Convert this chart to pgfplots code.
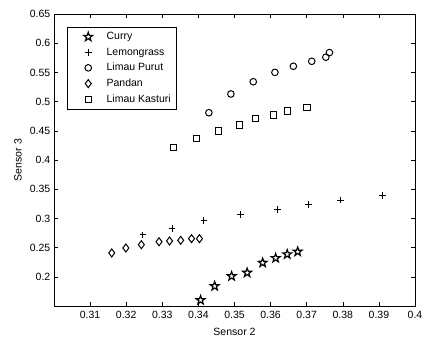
\documentclass[border=0pt]{standalone}
\usepackage{pgfplots}
\pgfplotsset{compat=1.18}
\usepackage{fontspec}
\setmainfont{Liberation Sans}
\pgfdeclareplotmark{pentagram}{%
  \pgfpathmoveto{\pgfpointpolar{90}{\pgfplotmarksize}}%
  \pgfpathlineto{\pgfpointpolar{126}{0.40\pgfplotmarksize}}%
  \pgfpathlineto{\pgfpointpolar{162}{\pgfplotmarksize}}%
  \pgfpathlineto{\pgfpointpolar{198}{0.40\pgfplotmarksize}}%
  \pgfpathlineto{\pgfpointpolar{234}{\pgfplotmarksize}}%
  \pgfpathlineto{\pgfpointpolar{270}{0.40\pgfplotmarksize}}%
  \pgfpathlineto{\pgfpointpolar{306}{\pgfplotmarksize}}%
  \pgfpathlineto{\pgfpointpolar{342}{0.40\pgfplotmarksize}}%
  \pgfpathlineto{\pgfpointpolar{18}{\pgfplotmarksize}}%
  \pgfpathlineto{\pgfpointpolar{54}{0.40\pgfplotmarksize}}%
  \pgfpathclose
  \pgfusepathqstroke
}
\begin{document}
\fontsize{10.5bp}{12bp}\selectfont
\begin{tikzpicture}
\useasboundingbox (0,0) rectangle (422bp,338bp);
\begin{axis}[
  at={(54bp,32bp)}, anchor=south west,
  scale only axis, width=361bp, height=292bp,
  xmin=0.30, xmax=0.40, ymin=0.15, ymax=0.65,
  xtick={0.31,0.32,0.33,0.34,0.35,0.36,0.37,0.38,0.39,0.40},
  xticklabels={0.31,0.32,0.33,0.34,0.35,0.36,0.37,0.38,0.39,0.4},
  ytick={0.2,0.25,0.3,0.35,0.4,0.45,0.5,0.55,0.6,0.65},
  yticklabels={0.2,0.25,0.3,0.35,0.4,0.45,0.5,0.55,0.6,0.65},
  tick align=inside, tick pos=both,
  major tick length=4bp,
  tick style={black, line width=0.5pt},
  axis line style={line width=0.6pt},
  xlabel={Sensor 2}, ylabel={Sensor 3},
  xlabel style={at={(axis description cs:0.5,0)}, anchor=center, yshift=-26bp},
  ylabel style={at={(axis description cs:-0.0997,0.5)}, anchor=center},
  xticklabel style={yshift=-1bp},
  ticklabel style={font=\fontsize{10.5bp}{12bp}\selectfont},
  label style={font=\fontsize{10.5bp}{12bp}\selectfont},
  legend style={at={(rel axis cs:0.036,0.955)}, anchor=north west,
    font=\fontsize{10.5bp}{12bp}\selectfont, draw=black, line width=0.5pt,
    row sep=2.6bp, column sep=12bp, inner xsep=3bp, inner ysep=3bp},
  legend cell align=left,
  legend image code/.code={\path[draw=none,fill=none] (0bp,0bp) -- (22bp,0bp); \draw[#1] plot coordinates {(18bp,0bp)};},
]
\addplot[only marks, mark=pentagram, mark size=4.6bp, black, line width=1.2pt, mark options={line join=miter}] coordinates {
(0.3406,0.160) (0.3445,0.184) (0.3492,0.201) (0.3535,0.207) (0.3578,0.224)
(0.3614,0.232) (0.3646,0.2385) (0.3675,0.243)};
\addlegendentry{Curry}
\addplot[only marks, mark=+, mark size=3.3bp, black, line width=1pt] coordinates {
(0.3246,0.2716) (0.3327,0.283) (0.3415,0.296) (0.3516,0.307) (0.3619,0.3156)
(0.3705,0.324) (0.3794,0.3315) (0.3910,0.339)};
\addlegendentry{Lemongrass}
\addplot[only marks, mark=o, mark size=3.3bp, black, line width=1pt] coordinates {
(0.3429,0.481) (0.3490,0.513) (0.3552,0.534) (0.3612,0.550) (0.3663,0.5605)
(0.3714,0.569) (0.3753,0.576) (0.3763,0.584)};
\addlegendentry{Limau Purut}
\addplot[only marks, mark=diamond, mark size=4bp, black, line width=1pt] coordinates {
(0.3160,0.2408) (0.3199,0.2493) (0.3242,0.255) (0.3291,0.260) (0.3320,0.2613)
(0.3351,0.2625) (0.3381,0.2653) (0.3403,0.2653)};
\addlegendentry{Pandan}
\addplot[only marks, mark=square, mark size=3.1bp, black, line width=1pt] coordinates {
(0.3332,0.4217) (0.3394,0.437) (0.3455,0.4497) (0.3513,0.460) (0.3558,0.4707)
(0.3609,0.477) (0.3647,0.484) (0.3701,0.4896)};
\addlegendentry{Limau Kasturi}
\end{axis}
\end{tikzpicture}
\end{document}
